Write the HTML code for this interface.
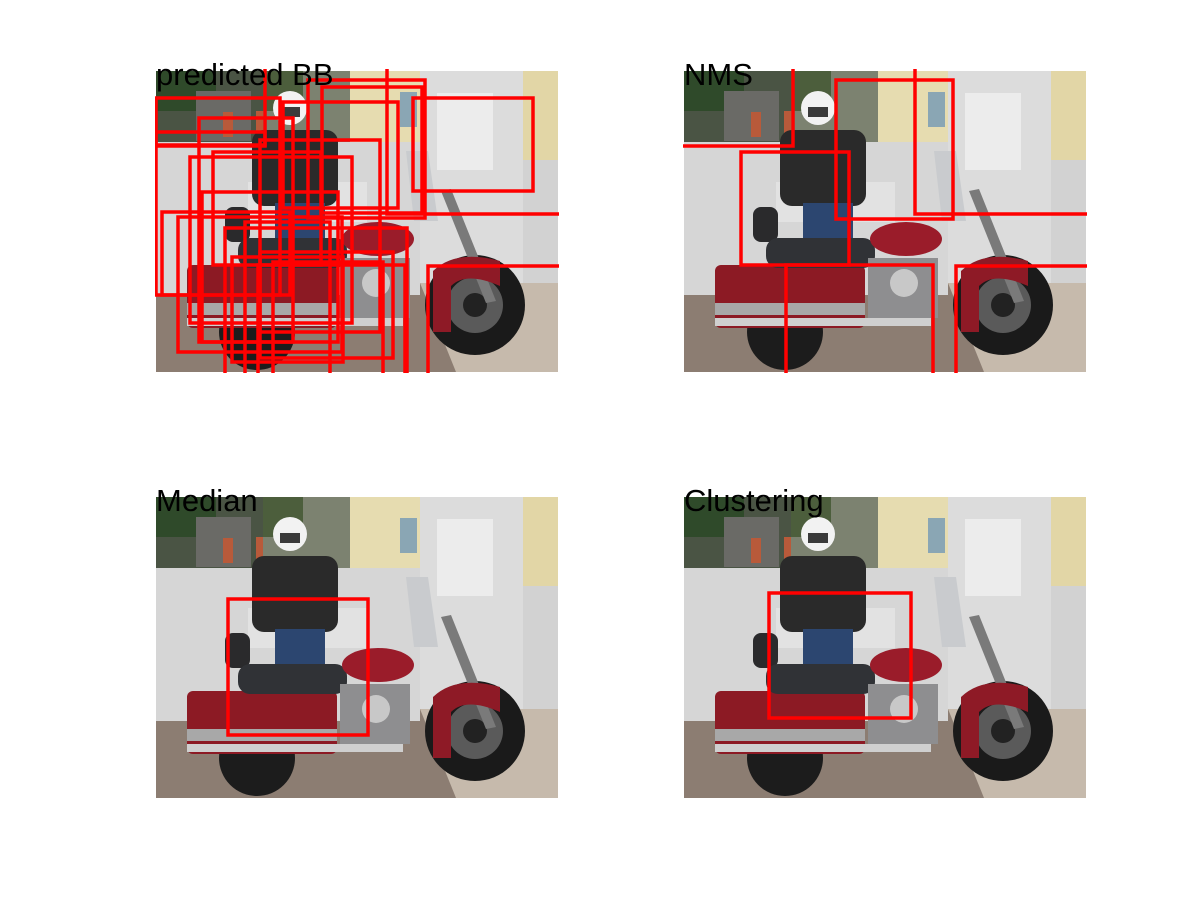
<!DOCTYPE html>
<html><head><meta charset="utf-8"><style>
html,body{margin:0;padding:0;background:#fff;}
svg{display:block;}
text{font-family:"Liberation Sans",sans-serif;}
</style></head>
<body>
<svg id="fig" width="1200" height="900" viewBox="0 0 1200 900" xmlns="http://www.w3.org/2000/svg">
<defs>
<symbol id="scene" viewBox="0 0 402 301" width="402" height="301">
  <rect x="0" y="0" width="402" height="301" fill="#bfbfbf"/>
  <rect x="0" y="0" width="110" height="75" fill="#4a5444"/>
  <rect x="0" y="0" width="60" height="40" fill="#2f4a2a"/>
  <rect x="40" y="20" width="55" height="50" fill="#6a6a66"/>
  <rect x="67" y="41" width="10" height="25" fill="#b85a3a"/>
  <rect x="100" y="40" width="8" height="25" fill="#b85a3a"/>
  <rect x="107" y="0" width="88" height="75" fill="#7c8270"/>
  <rect x="107" y="0" width="40" height="40" fill="#4c5e3c"/>
  <rect x="194" y="0" width="70" height="72" fill="#e6dcb0"/>
  <rect x="244" y="21" width="17" height="35" fill="#8aa6b4"/>
  <rect x="264" y="0" width="110" height="215" fill="#dcdcdc"/>
  <rect x="281" y="22" width="56" height="77" fill="#ececec"/>
  <rect x="367" y="0" width="35" height="89" fill="#e2d6a6"/>
  <rect x="367" y="89" width="35" height="125" fill="#d2d2d2"/>
  <rect x="0" y="71" width="264" height="153" fill="#d6d6d6"/>
  <rect x="92" y="111" width="119" height="40" fill="#e2e2e2"/>
  <polygon points="0,224 264,224 264,212 402,212 402,301 0,301" fill="#8c7d72"/>
  <polygon points="264,212 402,212 402,301 300,301" fill="#c6baac"/>
  <polygon points="250,80 272,80 282,150 258,150" fill="#c9cbce"/>
  <rect x="96" y="59" width="86" height="76" rx="12" fill="#2a2a2a"/>
  <rect x="119" y="132" width="50" height="50" fill="#2c4670"/>
  <circle cx="134" cy="37" r="17" fill="#f2f2f2"/>
  <rect x="124" y="36" width="20" height="10" fill="#3a3a3a"/>
  <circle cx="101" cy="261" r="38" fill="#1c1c1c"/>
  <circle cx="319" cy="234" r="50" fill="#1a1a1a"/>
  <circle cx="319" cy="234" r="28" fill="#5a5a5a"/>
  <circle cx="319" cy="234" r="12" fill="#222"/>
  <rect x="69" y="136" width="25" height="35" rx="8" fill="#2a2a2c"/>
  <rect x="31" y="194" width="150" height="63" rx="6" fill="#8c1a24"/>
  <rect x="31" y="232" width="150" height="12" fill="#a8a8a8"/>
  <rect x="82" y="167" width="109" height="30" rx="12" fill="#303236"/>
  <ellipse cx="222" cy="168" rx="36" ry="17" fill="#9a1c2a"/>
  <rect x="184" y="187" width="70" height="60" fill="#8e8e90"/>
  <circle cx="220" cy="212" r="14" fill="#c8c8c8"/>
  <rect x="31" y="247" width="216" height="8" fill="#cfcfcf"/>
  <polygon points="285,120 295,118 340,230 330,232" fill="#7a7a7a"/>
  <path d="M277,261 L277,200 Q300,178 344,190 L344,215 Q310,200 295,215 L295,261 Z" fill="#8e1a26"/>
</symbol>
<clipPath id="c1"><rect x="-1" y="-2" width="404" height="304"/></clipPath>
</defs>
<g id="panels"></g>
</svg>
<script>
const panelTitles = ["predicted BB", "NMS", "Median", "Clustering"];
const boxesBB = [
  [0,27,124,224],[0,61,109,74],[43,47,137,271],[34,86,196,252],[104,69,224,261],
  [46,121,182,271],[6,141,134,224],[22,146,186,281],[69,157,251,310],[89,151,174,310],
  [76,186,187,291],[104,181,237,287],[117,191,227,310],[152,9,269,147],[166,16,266,142],
  [127,31,242,137],[257,27,377,120],[231,-10,410,143],[272,195,410,310],[-10,-10,109,75],
  [57,81,165,194],[102,194,249,310]
];
const boxesNMS = [[-10,-10,109,75],[57,81,165,194],[152,9,269,148],[231,-10,410,143],[272,195,410,310],[102,194,249,310]];
const boxesMedian = [[72,102,212,238]];
const boxesCluster = [[85,96,227,221]];
const panelBoxes = [boxesBB, boxesNMS, boxesMedian, boxesCluster];
const panelOrigins = [[156,71],[684,71],[156,497],[684,497]];
const NS = "http://www.w3.org/2000/svg";
const root = document.getElementById("panels");
const names = ["predicted-bb","nms","median","clustering"];
panelTitles.forEach((t,i)=>{
  const [ox,oy] = panelOrigins[i];
  const g = document.createElementNS(NS,"g");
  g.setAttribute("transform",`translate(${ox},${oy})`);
  
  
  const u = document.createElementNS(NS,"use");
  u.setAttribute("href","#scene");
  
  
  g.appendChild(u);
  const bg = document.createElementNS(NS,"g");
  bg.setAttribute("clip-path","url(#c1)");
  panelBoxes[i].forEach(b=>{
    const r = document.createElementNS(NS,"rect");
    r.setAttribute("x",b[0]); r.setAttribute("y",b[1]);
    r.setAttribute("width",b[2]-b[0]); r.setAttribute("height",b[3]-b[1]);
    r.setAttribute("fill","none"); r.setAttribute("stroke","#ff0000"); r.setAttribute("stroke-width","3.5");
    
    
    bg.appendChild(r);
  });
  g.appendChild(bg);
  const tx = document.createElementNS(NS,"text");
  tx.setAttribute("x",0); tx.setAttribute("y",14);
  tx.setAttribute("font-size","31"); tx.setAttribute("fill","#000");
  tx.textContent = t;
  
  
  g.appendChild(tx);
  root.appendChild(g);
});
</script>
</body></html>
